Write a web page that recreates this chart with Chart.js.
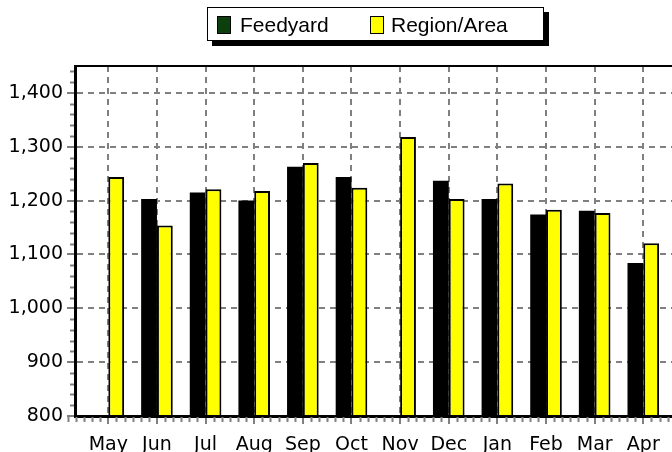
<!DOCTYPE html>
<html>
<head>
<meta charset="utf-8">
<script src="https://cdn.jsdelivr.net/npm/chart.js@4/dist/chart.umd.min.js"></script>
<style>
    html, body { margin: 0; padding: 0; background: #fff; overflow: hidden; }
    #wrap { position: relative; width: 672px; height: 452px; }
    #legend {
        position: absolute; left: 207px; top: 7px;
        width: 337px; height: 34px; box-sizing: border-box;
        border: 1px solid #000; background: #fff;
        box-shadow: 5px 5px 0 #000;
        font: 21px "Liberation Sans", Arial, sans-serif; color: #000;
    }
    #legend .sw { position: absolute; top: 8px; width: 14px; height: 18px; box-sizing: border-box; border: 1px solid #000; }
    #legend .lb { position: absolute; top: 6px; line-height: 21px; white-space: nowrap; }
</style>
</head>
<body>
<div id="wrap">
    <canvas id="mainChart" width="672" height="452"></canvas>
    <div id="legend">
        <span class="sw" style="left:9px; background:#0c3f0c"></span><span class="lb" style="left:32px">Feedyard</span>
        <span class="sw" style="left:162px; background:#ffff00"></span><span class="lb" style="left:183px">Region/Area</span>
    </div>
</div>
<script>
// Monthly values
const months = ['May', 'Jun', 'Jul', 'Aug', 'Sep', 'Oct', 'Nov', 'Dec', 'Jan', 'Feb', 'Mar', 'Apr'];
const feedyard = [null, 1203, 1215, 1200, 1263, 1244, null, 1237, 1203, 1174, 1181, 1084];
const regionArea = [1244, 1154, 1221, 1218, 1270, 1224, 1318, 1203, 1232, 1183, 1177, 1121];
const yTicks = [800, 900, 1000, 1100, 1200, 1300, 1400];

const GRID = '#808080';

// top frame line + small minor ticks on both axes
const framePlugin = {
    id: 'frameMinor',
    afterDraw(chart) {
        const { ctx, chartArea, scales } = chart;
        ctx.save();
        ctx.strokeStyle = '#000';
        ctx.lineWidth = 2;
        ctx.beginPath();
        ctx.moveTo(chartArea.left, chartArea.top);
        ctx.lineTo(chartArea.right, chartArea.top);
        ctx.stroke();

        ctx.strokeStyle = GRID;
        ctx.lineWidth = 2;
        ctx.beginPath();
        for (let v = 820; v < scales.y.max; v += 20) {
            if (v % 100 === 0) continue;
            const y = Math.round(scales.y.getPixelForValue(v)) + 0.5;
            ctx.moveTo(chartArea.left - 5, y);
            ctx.lineTo(chartArea.left - 1, y);
        }
        for (let k = -5; k / 6 < scales.x.max; k++) {
            if (k % 6 === 0) continue;
            const x = Math.round(scales.x.getPixelForValue(k / 6)) + 0.5;
            ctx.moveTo(x, chartArea.bottom + 1);
            ctx.lineTo(x, chartArea.bottom + 6);
        }
        ctx.stroke();
        ctx.restore();
    }
};

const axisFont = { family: '"DejaVu Sans", sans-serif', size: 19 };

new Chart(document.getElementById('mainChart'), {
    type: 'bar',
    plugins: [framePlugin],
    data: {
        datasets: [{
            label: 'Feedyard',
            data: feedyard.map((v, i) => ({ x: i, y: v })),
            backgroundColor: '#000000',
            borderWidth: 0
        }, {
            label: 'Region/Area',
            data: regionArea.map((v, i) => ({ x: i, y: v })),
            backgroundColor: '#ffff00',
            borderColor: '#000000',
            borderWidth: 2
        }]
    },
    options: {
        responsive: false,
        animation: false,
        layout: { padding: { top: 66, right: 0, left: 0, bottom: 0 } },
        datasets: { bar: { categoryPercentage: 0.65, barPercentage: 1.0 } },
        plugins: { legend: { display: false }, tooltip: { enabled: false } },
        scales: {
            x: {
                type: 'linear',
                offset: false,
                min: -0.685,
                max: 11.59,
                afterBuildTicks: (axis) => { axis.ticks = months.map((m, i) => ({ value: i })); },
                afterFit: (scale) => { scale.height = 36; scale.paddingLeft = 0; scale.paddingRight = 0; },
                grid: { offset: false, color: GRID, lineWidth: 2, tickLength: 8, tickColor: GRID, tickWidth: 2, tickBorderDash: [] },
                border: { display: true, color: '#000', width: 3, dash: [6, 5], z: 1 },
                ticks: {
                    color: '#000',
                    font: axisFont,
                    padding: 10,
                    autoSkip: false,
                    maxRotation: 0,
                    callback: (value) => months[value]
                }
            },
            y: {
                min: 800,
                max: 1450,
                afterBuildTicks: (axis) => { axis.ticks = yTicks.map(v => ({ value: v })); },
                afterFit: (scale) => { scale.width = 75; },
                grid: { color: GRID, lineWidth: 2, tickLength: 8, tickColor: GRID, tickWidth: 2, tickBorderDash: [] },
                border: { display: true, color: '#000', width: 3, dash: [6, 5], z: 1 },
                ticks: {
                    color: '#000',
                    font: axisFont,
                    padding: 4,
                    callback: (value) => value.toLocaleString('en-US')
                }
            }
        }
    }
});
</script>
</body>
</html>
